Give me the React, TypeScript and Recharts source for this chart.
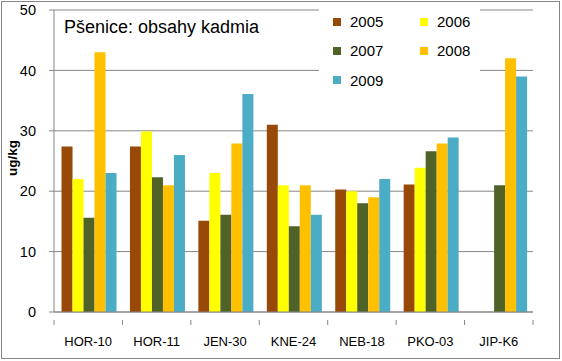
import React from 'react';
import { BarChart, Bar, XAxis, YAxis, CartesianGrid, Legend, Label } from 'recharts';

const categories = ['HOR-10', 'HOR-11', 'JEN-30', 'KNE-24', 'NEB-18', 'PKO-03', 'JIP-K6'];
const years = ['2005', '2006', '2007', '2008', '2009'];
const s2005 = [27.4, 27.4, 15.1, 31.0, 20.3, 21.1, null];
const s2006 = [22.0, 29.9, 23.0, 21.0, 20.0, 23.9, null];
const s2007 = [15.6, 22.3, 16.1, 14.2, 18.0, 26.6, 21.0];
const s2008 = [43.0, 21.0, 27.9, 21.0, 19.0, 27.9, 42.0];
const s2009 = [23.0, 26.0, 36.1, 16.1, 22.0, 28.9, 39.0];
const yTicks = [0, 10, 20, 30, 40, 50];
const colors = ['#984807', '#FFFF00', '#4F6228', '#FFC000', '#4BACC6'];
const title = 'Pšenice: obsahy kadmia';
const yLabel = 'ug/kg';

const seriesValues = [s2005, s2006, s2007, s2008, s2009];
const data = categories.map((c, i) => {
  const row: any = { name: c };
  years.forEach((y, k) => {
    row[y] = seriesValues[k][i];
  });
  return row;
});

const FONT = '"Liberation Sans", Arial, sans-serif';
const GRID = '#868686';
const W = 562;
const H = 361;
const MARGIN = { top: 10, right: 29, bottom: 0, left: 0 };
const Y_WIDTH = 54;
const X_HEIGHT = 49;
const BAND = (W - MARGIN.right - Y_WIDTH) / categories.length;

const XTick = (props: any) => {
  const { x, y, payload, index } = props;
  const half = BAND / 2;
  return (
    <g>
      <line x1={x - half} y1={y} x2={x - half} y2={y + 5} stroke={GRID} />
      {index === categories.length - 1 && (
        <line x1={x + half} y1={y} x2={x + half} y2={y + 5} stroke={GRID} />
      )}
      <text
        x={x}
        y={y + 26}
        textAnchor="middle"
        fontFamily={FONT}
        fontSize={13}
        fill="#000"
      >
        {payload.value}
      </text>
    </g>
  );
};

const renderLegend = () => (
  <div style={{ position: 'relative', width: 161, height: 84, background: '#fff' }}>
    {years.map((y, i) => {
      const col = i % 2;
      const row = Math.floor(i / 2);
      const left = col === 0 ? 14 : 101;
      const cy = 13.7 + row * 29.2;
      return (
        <div
          key={y}
          style={{
            position: 'absolute',
            left,
            top: cy - 9,
            height: 18,
            display: 'flex',
            alignItems: 'center',
            fontFamily: FONT,
            fontSize: 15,
            color: '#000',
            whiteSpace: 'nowrap',
          }}
        >
          <span style={{ display: 'inline-block', width: 8, height: 8, background: colors[i], marginRight: 9 }} />
          {y}
        </div>
      );
    })}
  </div>
);

export default function App() {
  return (
    <div style={{ position: 'fixed', left: 0, top: 0, width: W, height: H, background: '#fff' }}>
      <div
        style={{
          position: 'absolute',
          left: 1,
          top: 1,
          width: 559,
          height: 358,
          border: '1px solid #868686',
          boxSizing: 'border-box',
        }}
      />
      <BarChart
        width={W}
        height={H}
        data={data}
        margin={MARGIN}
        barCategoryGap="11%"
        barGap={0}
      >
        <CartesianGrid horizontal vertical={false} stroke={GRID} strokeWidth={1} />
        <XAxis
          dataKey="name"
          height={X_HEIGHT}
          axisLine={{ stroke: GRID }}
          tickLine={false}
          tick={<XTick />}
          interval={0}
        />
        <YAxis
          width={Y_WIDTH}
          domain={[0, 50]}
          ticks={yTicks}
          interval={0}
          axisLine={{ stroke: GRID }}
          tickLine={{ stroke: GRID }}
          tickSize={5}
          tickMargin={13}
          tick={{ fontFamily: FONT, fontSize: 14.5, fill: '#000' }}
        >
          <Label
            content={(p: any) => {
              const vb = p.viewBox || { x: 0, y: 10, width: 54, height: 302 };
              const cx = 12.5;
              const cy = vb.y + vb.height / 2 - 3;
              return (
                <text
                  x={cx}
                  y={cy}
                  transform={`rotate(-90, ${cx}, ${cy})`}
                  textAnchor="middle"
                  dominantBaseline="central"
                  fontFamily={FONT}
                  fontSize={13.5}
                  fontWeight="bold"
                  fill="#000"
                >
                  {yLabel}
                </text>
              );
            }}
          />
        </YAxis>
        <Legend
          layout="vertical"
          align="center"
          verticalAlign="middle"
          content={renderLegend}
          wrapperStyle={{ position: 'absolute', left: 319, top: 8, width: 161, height: 84 }}
        />
        {years.map((y, i) => (
          <Bar key={y} dataKey={y} fill={colors[i]} isAnimationActive={false} />
        ))}
      </BarChart>
      <div
        style={{
          position: 'absolute',
          left: 64,
          top: 18,
          fontFamily: FONT,
          fontSize: 18,
          lineHeight: '18px',
          color: '#000',
          whiteSpace: 'nowrap',
        }}
      >
        {title}
      </div>
    </div>
  );
}
